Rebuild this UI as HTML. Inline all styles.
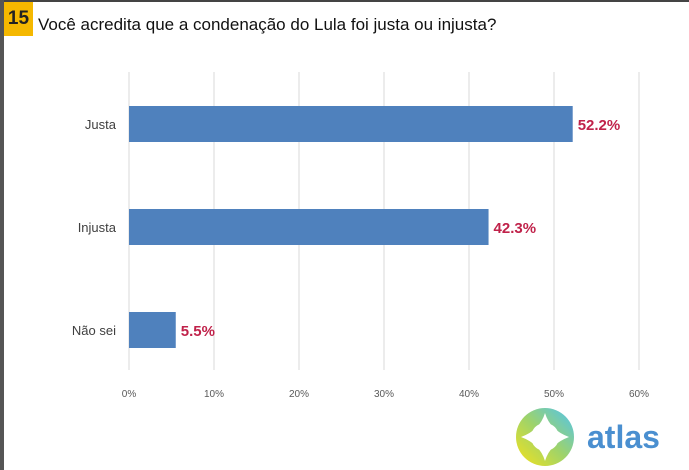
<!DOCTYPE html>
<html><head><meta charset="utf-8"><style>
body{margin:0;width:689px;height:470px;overflow:hidden;background:#fff;font-family:"Liberation Sans",sans-serif;position:relative}
</style></head><body>
<div style="position:absolute;left:0;top:0;width:689px;height:2px;background:#444"></div>
<div style="position:absolute;left:0;top:0;width:4px;height:470px;background:#555"></div>
<div style="position:absolute;left:4px;top:2px;width:29px;height:34px;background:#f5b800;color:#222;font-weight:bold;font-size:19px;line-height:34px;text-align:center">15</div>
<div style="position:absolute;left:38px;top:15px;font-size:17px;color:#111">Você acredita que a condenação do Lula foi justa ou injusta?</div>
<svg id="c" width="689" height="470" style="position:absolute;left:0;top:0"></svg>
<svg width="689" height="470" style="position:absolute;left:0;top:0">
<defs><linearGradient id="g" x1="1" y1="0" x2="0" y2="1"><stop offset="0" stop-color="#4fc3f0"/><stop offset="0.5" stop-color="#9fd36a"/><stop offset="1" stop-color="#f5e21a"/></linearGradient></defs>
<circle cx="545" cy="437" r="29" fill="url(#g)"/>
<path d="M545 413 Q550 430 569 437 Q550 444 545 461 Q540 444 521 437 Q540 430 545 413Z" fill="#fff"/>
<circle cx="545" cy="437" r="14" fill="#fff"/>
<text x="587" y="448" font-size="32" font-weight="bold" fill="#4a8fd0" font-family="Liberation Sans,sans-serif">atlas</text>
</svg>
<script>
const categories=["Justa","Injusta","Não sei"];
const values=[52.2,42.3,5.5];
const valueLabels=["52.2%","42.3%","5.5%"];
const ticks=[0,10,20,30,40,50,60];
const ns="http://www.w3.org/2000/svg";
const svg=document.getElementById('c');
const x0=129,pxPer=8.5,top0=72,bot=370;
const x=v=>x0+v*pxPer;
const yc=i=>124+103*i;
function mk(t,a){const e=document.createElementNS(ns,t);for(const k in a)e.setAttribute(k,a[k]);svg.appendChild(e);return e;}
ticks.forEach(t=>{
 const l=mk('line',{x1:x(t),x2:x(t),y1:top0,y2:bot,stroke:'#d9d9d9','stroke-width':1});
 
 
 const tx=mk('text',{x:x(t),y:397,'text-anchor':'middle','font-size':10,fill:'#595959'});
 tx.textContent=t+'%';
 
 
});
categories.forEach((c,i)=>{
 const cy=yc(i);
 const r=mk('rect',{x:x0,y:cy-18,width:x(values[i])-x0,height:36,fill:'#4f81bd'});
 
 
 const lb=mk('text',{x:116,y:cy+5,'text-anchor':'end','font-size':13,fill:'#404040'});
 lb.textContent=c;
 
 
 const vl=mk('text',{x:x(values[i])+5,y:cy+6,'font-size':15,'font-weight':'bold',fill:'#c0224a'});
 vl.textContent=valueLabels[i];
 
 
});
</script>
</body></html>
